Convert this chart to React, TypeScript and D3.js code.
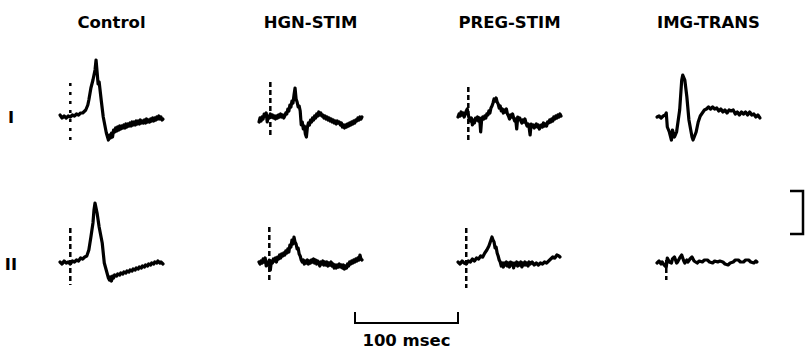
import * as d3 from "d3";

// recording conditions (columns) and recording sites (rows)
const conditions = ["Control", "HGN-STIM", "PREG-STIM", "IMG-TRANS"];
const sites = ["I", "II"];

// each trace: [time (msec), amplitude (arb. units)]
const controlI: [number, number][] = [
  [0, 2], [2, -1], [4, 1], [6, -1], [8, 1], [10, 0], [12, 2], [14, 1], [16, 3], [18, 2],
  [20, 4], [22, 4], [24, 6], [25, 7], [27, 12], [28, 17], [30, 29], [32, 37], [34, 47],
  [35, 57], [36, 45], [37, 33], [38, 35], [40, 17], [42, 0], [45, -16], [47, -23], [48, -18],
  [49, -21], [50, -16], [51, -20], [52, -13], [53, -15], [54, -11], [55, -14], [56, -10],
  [57, -13], [58, -9], [59, -12], [60, -9], [61, -11], [62, -8], [63, -11], [64, -7], [65, -10],
  [66, -7], [67, -9], [68, -6], [69, -9], [70, -5], [71, -8], [72, -5], [73, -8], [74, -4],
  [75, -7], [76, -4], [77, -7], [78, -3], [79, -6], [80, -4], [81, -6], [82, -3], [83, -6],
  [84, -2], [85, -5], [86, -3], [87, -5], [88, -2], [89, -4], [90, -1], [91, -4], [92, -1],
  [93, -3], [94, 0], [95, -2], [96, 1], [97, -2], [98, 0], [99, -3], [100, -2],
];
const hgnI: [number, number][] = [
  [0, -5], [1, -1], [2, -4], [3, 0], [4, -2], [5, 3], [6, 1], [7, 4], [8, -5], [9, 1], [10, -1],
  [11, 3], [12, 0], [13, 2], [14, -1], [15, 1], [16, -2], [17, 1], [18, -1], [19, 2], [20, 0],
  [21, 3], [22, 0], [23, 2], [24, -1], [25, 1], [26, 4], [27, 3], [28, 8], [29, 6], [30, 12],
  [31, 10], [32, 16], [33, 14], [34, 22], [35, 29], [36, 18], [37, 15], [38, 10], [39, 11],
  [40, 6], [41, -8], [42, -5], [43, -12], [44, -9], [45, -17], [46, -20], [47, -10], [48, -6],
  [49, -8], [50, -3], [51, -5], [52, -1], [53, -3], [54, 1], [55, -1], [56, 3], [57, 1], [58, 5],
  [59, 2], [60, 4], [61, 1], [62, 2], [63, -1], [64, 1], [65, -2], [66, 0], [67, -3], [68, -1],
  [69, -4], [70, -2], [71, -5], [72, -3], [73, -6], [74, -4], [75, -7], [76, -4], [77, -6],
  [78, -5], [79, -8], [80, -6], [81, -10], [82, -8], [83, -11], [84, -8], [85, -10], [86, -7],
  [87, -9], [88, -6], [89, -8], [90, -5], [91, -7], [92, -4], [93, -6], [94, -3], [95, -4],
  [96, -1], [97, -3], [98, 0], [99, -2], [100, 0],
];
const pregI: [number, number][] = [
  [0, 0], [1, 3], [2, 1], [3, 5], [4, 2], [5, 4], [6, 0], [7, 3], [8, 6], [9, 8], [10, 2],
  [11, -2], [12, -4], [13, -1], [14, -8], [15, -3], [16, -6], [17, -1], [18, -3], [19, 0],
  [20, -4], [21, -1], [22, -15], [23, -2], [24, 0], [25, -2], [26, 1], [27, -1], [28, 3],
  [29, 2], [30, 6], [31, 4], [32, 9], [33, 11], [34, 14], [35, 18], [36, 16], [37, 19],
  [38, 15], [39, 13], [40, 9], [41, 11], [42, 6], [43, 8], [44, 4], [45, 7], [46, 5], [47, 8],
  [48, 3], [49, 1], [50, -2], [51, 2], [52, 0], [53, 3], [54, -1], [55, -4], [56, -2], [57, -12],
  [58, 0], [59, -2], [60, -1], [61, -4], [62, -6], [63, -3], [64, -5], [65, -2], [66, -6],
  [67, -9], [68, -7], [69, -10], [70, -18], [71, -7], [72, -10], [73, -8], [74, -11], [75, -9],
  [76, -7], [77, -10], [78, -8], [79, -12], [80, -10], [81, -8], [82, -10], [83, -6], [84, -9],
  [85, -7], [86, -9], [87, -5], [88, -6], [89, -3], [90, -5], [91, -2], [92, -4], [93, 0],
  [94, -2], [95, 1], [96, -1], [97, 2], [98, 0], [99, 3], [100, 1],
];
const imgI: [number, number][] = [
  [0, 0], [2, 1], [4, -1], [6, 1], [8, 2], [9, 4], [10, -10], [12, -15], [14, -23], [15, -13],
  [17, -20], [19, -15], [22, 7], [24, 37], [25, 42], [27, 37], [29, 20], [31, -3], [34, -20],
  [35, -23], [38, -15], [40, -5], [42, 1], [44, 4], [46, 7], [48, 8], [50, 10], [52, 8],
  [54, 10], [56, 8], [58, 9], [60, 6], [62, 8], [64, 5], [66, 7], [68, 4], [70, 7], [72, 6],
  [74, 7], [76, 3], [78, 5], [80, 2], [82, 5], [84, 3], [86, 5], [88, 2], [90, 5], [92, 2],
  [94, 3], [96, 0], [98, 2], [100, -1],
];
const controlII: [number, number][] = [
  [0, 2], [2, 0], [4, 3], [6, 1], [8, 2], [10, 0], [12, 3], [14, 2], [16, 4], [18, 3], [20, 6],
  [22, 5], [24, 7], [26, 8], [28, 14], [30, 27], [32, 41], [33, 54], [34, 61], [36, 51],
  [38, 37], [41, 21], [43, 1], [47, -14], [48, -16], [49, -13], [50, -17], [51, -12], [52, -14],
  [53, -11], [55, -12], [56, -10], [58, -11], [59, -9], [61, -10], [62, -8], [64, -9], [65, -7],
  [67, -8], [68, -6], [70, -7], [71, -5], [73, -6], [74, -4], [76, -5], [77, -3], [79, -4],
  [80, -2], [82, -3], [83, -1], [85, -2], [86, 0], [88, -1], [89, 1], [91, 0], [92, 2], [94, 1],
  [95, 3], [97, 1], [98, 2], [100, 0],
];
const hgnII: [number, number][] = [
  [0, 2], [1, 0], [2, 3], [3, 1], [4, 5], [5, 2], [6, 6], [7, -2], [8, 2], [9, -1], [10, 4],
  [11, -6], [12, 3], [13, 1], [14, 5], [15, 3], [16, 6], [17, 2], [18, 7], [19, 5], [20, 9],
  [21, 6], [22, 10], [23, 8], [24, 11], [25, 9], [26, 13], [27, 11], [28, 15], [29, 12],
  [30, 19], [31, 17], [32, 24], [33, 20], [34, 27], [35, 22], [36, 20], [37, 15], [38, 16],
  [39, 10], [40, 8], [41, 4], [42, 2], [43, 4], [44, 0], [45, 3], [46, 1], [47, 4], [48, 0],
  [49, 3], [50, 1], [51, 4], [52, 2], [53, 5], [54, 1], [55, 4], [56, 0], [57, 3], [58, 1],
  [59, -2], [60, 2], [61, 0], [62, 3], [63, -1], [64, 2], [65, -1], [66, 2], [67, -2], [68, 1],
  [69, -1], [70, 2], [71, -2], [72, 0], [73, -4], [74, -1], [75, -4], [76, -1], [77, -3],
  [78, 0], [79, -3], [80, -1], [81, -4], [82, -1], [83, -5], [84, -2], [85, -4], [86, 0],
  [87, -2], [88, 2], [89, 0], [90, 3], [91, 1], [92, 4], [93, 2], [94, 5], [95, 3], [96, 6],
  [97, 4], [98, 9], [99, 5], [100, 4],
];
const pregII: [number, number][] = [
  [0, 2], [2, 0], [4, 3], [6, 1], [8, 0], [10, 3], [12, 2], [14, 5], [16, 3], [18, 6], [20, 5],
  [22, 8], [24, 7], [26, 11], [28, 14], [30, 18], [31, 21], [33, 27], [34, 24], [35, 22],
  [36, 16], [37, 17], [38, 11], [39, 8], [40, 4], [41, 2], [42, -2], [43, 1], [44, -3], [45, 1],
  [46, -1], [47, 2], [48, -2], [49, 1], [50, -3], [51, 2], [52, -1], [53, 1], [54, -4], [55, 1],
  [56, -1], [57, 2], [58, -2], [59, 1], [60, -1], [61, 2], [62, -3], [63, 1], [64, -1], [65, 2],
  [66, -1], [67, 1], [68, -2], [69, 2], [70, 0], [72, 2], [74, -1], [76, 1], [78, -1], [80, 1],
  [82, 0], [84, 2], [86, 1], [88, 3], [90, 5], [92, 7], [94, 6], [96, 9], [98, 8], [99, 7],
];
const imgII: [number, number][] = [
  [0, 1], [2, 3], [4, 0], [5, 2], [7, -1], [9, -3], [10, 6], [12, 2], [14, 1], [15, 5],
  [17, 7], [19, 1], [20, 2], [22, 6], [24, 9], [26, 3], [27, 1], [29, 4], [30, 2], [32, 5],
  [34, 7], [36, 3], [39, 1], [41, 3], [44, 2], [46, 4], [49, 4], [51, 2], [54, 1], [56, 3],
  [59, 2], [61, 3], [64, 2], [66, 0], [69, -1], [71, 1], [74, 2], [76, 4], [79, 4], [81, 2],
  [84, 2], [86, 4], [89, 4], [91, 2], [94, 1], [96, 3], [97, 2],
];

// stimulus artifacts: [time, top, bottom]
const artifactsI: ([number, number, number] | null)[] = [[10, 34, -23], [11, 35, -20], [10, 30, -23], null];
const artifactsII: ([number, number, number] | null)[] = [[10, 36, -21], [10, 37, -19], [8, 36, -24], [9, 4, -16]];

const traces = [
  [controlI, hgnI, pregI, imgI],
  [controlII, hgnII, pregII, imgII],
];
const artifacts = [artifactsI, artifactsII];

const timeBar = 100; // msec
const ampBar = 43;

const width = 808;
const height = 353;
const font = "'DejaVu Sans', sans-serif";

export default function App() {
  const col = d3.scaleBand().domain(conditions).range([60, 60 + 4 * 199]);
  const row = d3.scalePoint().domain(sites).range([117, 264]);
  const t = d3.scaleLinear().domain([0, 100]).range([0, 103]);
  const amp = d3.scaleLinear().domain([0, 1]).range([0, -1]);

  return (
    <div style={{ position: "absolute", left: 0, top: 0 }}>
      <svg width={width} height={height} style={{ display: "block", background: "#fff" }}>
        {conditions.map((c) => (
          <text
            key={c}
            x={col(c)! + t(50)}
            y={28}
            textAnchor="middle"
            fontFamily={font}
            fontWeight={700}
            fontSize={16.5}
          >
            {c}
          </text>
        ))}
        {sites.map((s) => (
          <text
            key={s}
            x={11}
            y={row(s)! + 6}
            textAnchor="middle"
            fontFamily={font}
            fontWeight={700}
            fontSize={16.5}
          >
            {s}
          </text>
        ))}
        {sites.map((s, ri) =>
          conditions.map((c, ci) => {
            const x0 = col(c)!;
            const y0 = row(s)!;
            const line = d3
              .line<[number, number]>()
              .x((d) => x0 + t(d[0]))
              .y((d) => y0 + amp(d[1]));
            const a = artifacts[ri][ci];
            return (
              <g key={s + c}>
                {a && (
                  <line
                    x1={x0 + t(a[0])}
                    x2={x0 + t(a[0])}
                    y1={y0 + amp(a[1])}
                    y2={y0 + amp(a[2])}
                    stroke="#000"
                    strokeWidth={2.5}
                    strokeDasharray={ci === 0 && ri === 0 ? "3,6" : "5,3"}
                  />
                )}
                <path
                  d={line(traces[ri][ci]) ?? ""}
                  fill="none"
                  stroke="#000"
                  strokeWidth={3.2}
                  strokeLinejoin="round"
                  strokeLinecap="round"
                />
              </g>
            );
          })
        )}
        {/* time scale bar */}
        <path
          d={`M${355},${312}V${323}H${355 + t(timeBar)}V${312}`}
          fill="none"
          stroke="#000"
          strokeWidth={2}
        />
        <text
          x={355 + t(timeBar) / 2}
          y={346}
          textAnchor="middle"
          fontFamily={font}
          fontWeight={700}
          fontSize={16.5}
        >
          {timeBar} msec
        </text>
        {/* amplitude calibration bar */}
        <path
          d={`M${790},${row("II")! + amp(73)}H${803}V${row("II")! + amp(73 - ampBar)}H${790}`}
          fill="none"
          stroke="#000"
          strokeWidth={2.5}
        />
      </svg>
    </div>
  );
}
